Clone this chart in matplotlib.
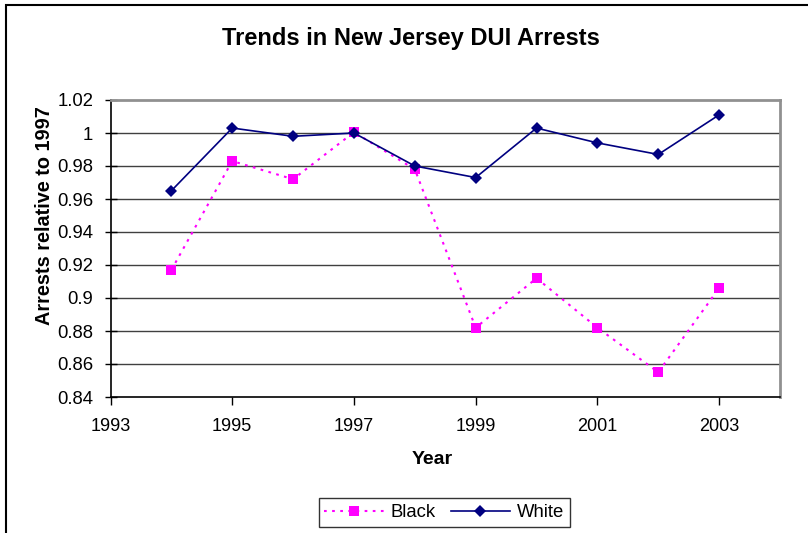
import matplotlib.pyplot as plt
import matplotlib.patches as patches

plt.rcParams['font.family'] = ['Liberation Sans', 'DejaVu Sans']

years = [1994, 1995, 1996, 1997, 1998, 1999, 2000, 2001, 2002, 2003]
black = [0.917, 0.983, 0.972, 1.0005, 0.978, 0.882, 0.912, 0.882, 0.855, 0.906]
white = [0.965, 1.003, 0.998, 1.000, 0.980, 0.973, 1.003, 0.994, 0.987, 1.011]

xticks = [1993, 1995, 1997, 1999, 2001, 2003]
yticks = [0.84, 0.86, 0.88, 0.90, 0.92, 0.94, 0.96, 0.98, 1.00, 1.02]
ytick_labels = ['0.84', '0.86', '0.88', '0.9', '0.92', '0.94', '0.96', '0.98', '1', '1.02']

fig = plt.figure(figsize=(8.08, 5.33), dpi=100)
ax = fig.add_axes([110.5 / 808, 136 / 533, 669.5 / 808, 297 / 533])

# outer chart border (left and top visible)
fig.add_artist(patches.Rectangle((6 / 808, -0.05), 1.2, 1 - 5 / 533 + 0.05,
                                 transform=fig.transFigure, fill=False,
                                 edgecolor='black', linewidth=1.5))

for y in yticks[1:-1]:
    ax.axhline(y, color='#404040', linewidth=1.0, zorder=1)

ax.plot(years, black, color='#FF00FF', linestyle=(0, (1.3, 2.6)), linewidth=1.5,
        marker='s', markersize=6.5, markeredgewidth=0, zorder=3, label='Black')
ax.plot(years, white, color='#000080', linestyle='-', linewidth=1.2,
        marker='D', markersize=6, markeredgewidth=0, zorder=4, label='White')

ax.set_xlim(1993, 2004)
ax.set_ylim(0.84, 1.02)
ax.set_xticks(xticks)
ax.set_xticklabels([str(x) for x in xticks], fontsize=13)
ax.set_yticks(yticks)
ax.set_yticklabels(ytick_labels, fontsize=13.3)
ax.tick_params(axis='y', direction='inout', length=9, width=1, pad=8)
ax.tick_params(axis='x', direction='out', length=6, width=1, pad=9)

for side in ['left', 'bottom']:
    ax.spines[side].set_color('black')
    ax.spines[side].set_linewidth(1.2)
for side in ['top', 'right']:
    ax.spines[side].set_color('#909090')
    ax.spines[side].set_linewidth(2)

fig.text(411 / 808, 1 - 38 / 533, 'Trends in New Jersey DUI Arrests',
         ha='center', va='center', fontsize=17, fontweight='bold')
fig.text(432 / 808, 1 - 460 / 533, 'Year', ha='center', va='center',
         fontsize=14, fontweight='bold')
fig.text(45 / 808, 1 - 216 / 533, 'Arrests relative to 1997', ha='center',
         va='center', rotation=90, fontsize=14.3, fontweight='bold')

leg = ax.legend(loc='center', bbox_to_anchor=(444.5 / 808, 1 - 512.5 / 533),
                bbox_transform=fig.transFigure, ncol=2, fontsize=13.3,
                frameon=True, fancybox=False, edgecolor='black',
                handlelength=3.2, columnspacing=0.8, handletextpad=0.4,
                borderpad=0.3)
leg.get_frame().set_linewidth(1.0)

fig.savefig('out.png', dpi=100)
